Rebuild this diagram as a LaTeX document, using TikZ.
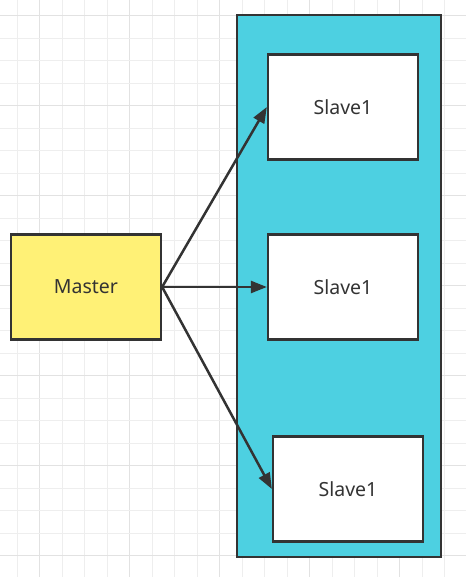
\documentclass[tikz,border=0pt]{standalone}
\usepackage{fontspec}
\setmainfont{Noto Sans}
\usetikzlibrary{arrows.meta}
\definecolor{gridminor}{RGB}{238,238,238}
\definecolor{gridmajor}{RGB}{226,226,226}
\definecolor{edge}{RGB}{51,51,51}
\definecolor{cyanfill}{RGB}{77,208,225}
\definecolor{yellowfill}{RGB}{255,241,118}
\tikzset{
  box/.style={draw=edge, line width=2.3pt, minimum width=150pt, minimum height=105pt, inner sep=0pt, text=edge, font=\fontsize{19.5}{22}\selectfont},
  conn/.style={draw=edge, line width=2.5pt, -{Triangle[length=16pt,width=12pt]}}
}
\begin{document}
\begin{tikzpicture}[x=1pt,y=-1pt]
\useasboundingbox (0,0) rectangle (466,577);
\fill[white] (0,0) rectangle (466,577);
% grid
\foreach \i in {0,...,20} {
  \pgfmathsetmacro{\xx}{17.3+22.5*\i}
  \pgfmathtruncatemacro{\m}{mod(\i+3,4)}
  \ifnum\m=0
    \draw[gridmajor, line width=1pt] (\xx,0) -- (\xx,577);
  \else
    \draw[gridminor, line width=1pt] (\xx,0) -- (\xx,577);
  \fi
}
\foreach \i in {0,...,25} {
  \pgfmathsetmacro{\yy}{15.7+22.5*\i}
  \pgfmathtruncatemacro{\m}{mod(\i+4,4)}
  \ifnum\m=0
    \draw[gridmajor, line width=1pt] (0,\yy) -- (466,\yy);
  \else
    \draw[gridminor, line width=1pt] (0,\yy) -- (466,\yy);
  \fi
}
% container
\node[draw=edge, fill=cyanfill, line width=2.3pt, minimum width=204pt, minimum height=542pt, inner sep=0pt] (group) at (339,286) {};
\node[box, fill=yellowfill] (master) at (86,287) {Master};
\node[box, fill=white] (s1) at (343,107) {Slave1};
\node[box, fill=white] (s2) at (343,287) {Slave1};
\node[box, fill=white] (s3) at (348,489) {Slave1};
\draw[conn] (master.east) -- (s1.west);
\draw[conn] (master.east) -- (s2.west);
\draw[conn] (master.east) -- (s3.west);
\end{tikzpicture}
\end{document}
